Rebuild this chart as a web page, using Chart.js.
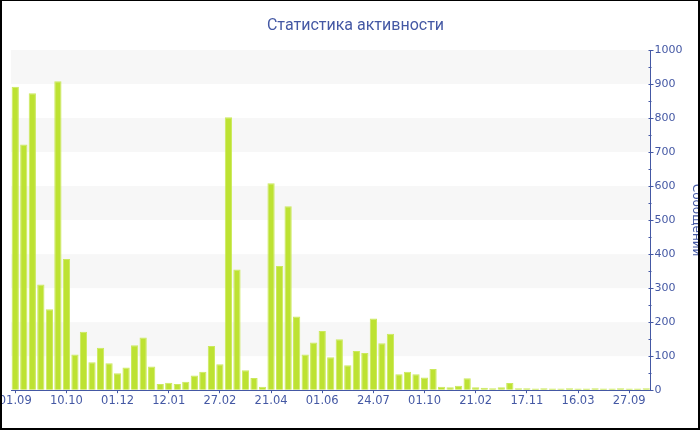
<!DOCTYPE html>
<html>
<head>
<meta charset="utf-8">
<script src="https://cdn.jsdelivr.net/npm/chart.js@4"></script>
<style>
  html, body { margin: 0; padding: 0; background: #fff; overflow: hidden; }
  #wrap { position: relative; width: 700px; height: 430px; }
  #frame { position: absolute; left: 0; top: 0; right: 0; bottom: 0; border: 2px solid #000; border-top-width: 1px; pointer-events: none; }
</style>
</head>
<body>
<div id="wrap">
  <canvas id="activityChart" width="700" height="430"></canvas>
  <div id="frame"></div>
</div>
<script>
// подписи оси X (каждая шестая неделя)
const tickLabels = ["01.09", "10.10", "01.12", "12.01", "27.02", "21.04", "01.06",
                    "24.07", "01.10", "21.02", "17.11", "16.03", "27.09"];
const tickEvery = 6;

// сообщения по периодам
const messages = [
    892, 722, 873, 311, 238, 908, 386, 105, 172, 82,
    125, 79, 50, 67, 132, 155, 70, 18, 22, 18,
    25, 43, 54, 130, 76, 802, 355, 59, 36, 10,
    608, 365, 541, 217, 105, 140, 174, 97, 150, 73,
    115, 109, 211, 138, 166, 47, 54, 47, 37, 62,
    10, 9, 13, 35, 9, 7, 6, 9, 21, 6,
    6, 5, 6, 5, 5, 6, 5, 5, 6, 5,
    5, 6, 5, 5, 6
];

const categories = messages.map((v, i) => i % tickEvery === 0 ? tickLabels[i / tickEvery] : "");

const axisColor = "#4458a4";
const barColor = "#bde232";
const bandColor = "#f7f7f7";

// полосы фона и мелкие засечки на оси Y
const bandsPlugin = {
    id: "bands",
    beforeDraw(chart) {
        const { ctx, chartArea } = chart;
        const y = chart.scales.y;
        ctx.save();
        ctx.fillStyle = bandColor;
        for (let v = 100; v < 1000; v += 200) {
            const top = y.getPixelForValue(v + 100);
            const bottom = y.getPixelForValue(v);
            ctx.fillRect(chartArea.left, top, chartArea.right - chartArea.left, bottom - top);
        }
        ctx.restore();
    },
    afterDraw(chart) {
        const { ctx } = chart;
        const y = chart.scales.y;
        const x0 = Math.round(y.left) + 0.5;
        ctx.save();
        ctx.strokeStyle = axisColor;
        ctx.lineWidth = 1;
        for (let v = 0; v <= 1000; v += 50) {
            const py = Math.round(y.getPixelForValue(v)) + 0.5;
            const major = v % 100 === 0;
            ctx.beginPath();
            ctx.moveTo(x0 - 3, py);
            ctx.lineTo(major ? x0 + 2 : x0, py);
            ctx.stroke();
        }
        ctx.restore();
    }
};

new Chart(document.getElementById("activityChart"), {
    type: "bar",
    data: {
        labels: categories,
        datasets: [{
            label: "Сообщений",
            data: messages,
            backgroundColor: barColor,
            borderColor: "#cbe95c",
            borderWidth: 1,
            barPercentage: 0.85,
            categoryPercentage: 1.0
        }]
    },
    options: {
        responsive: false,
        animation: false,
        devicePixelRatio: 1,
        layout: { padding: { left: 11, right: 0, top: 0, bottom: 21 } },
        plugins: {
            legend: { display: false },
            tooltip: { enabled: false },
            title: {
                display: true,
                text: "Статистика активности",
                color: axisColor,
                font: { family: "Roboto", size: 16, weight: "normal" },
                padding: { top: 16.4, bottom: 14.4 }
            }
        },
        scales: {
            x: {
                ticks: {
                    autoSkip: false,
                    maxRotation: 0,
                    color: axisColor,
                    font: { family: "DejaVu Sans", size: 11.5 },
                    padding: 1
                },
                grid: {
                    offset: false,
                    drawOnChartArea: false,
                    tickLength: 3,
                    color: ctx => categories[ctx.index] ? axisColor : "rgba(0,0,0,0)"
                },
                border: { color: axisColor },
                afterFit(scale) { scale.paddingLeft = 0; scale.paddingRight = 0; }
            },
            y: {
                position: "right",
                min: 0,
                max: 1000,
                ticks: {
                    stepSize: 100,
                    color: axisColor,
                    font: { family: "DejaVu Sans", size: 11 },
                    padding: 4,
                    callback: v => String(v)
                },
                grid: { drawOnChartArea: false, drawTicks: false },
                border: { color: axisColor },
                title: {
                    display: true,
                    text: "Сообщений",
                    color: axisColor,
                    font: { family: "DejaVu Sans", size: 12 },
                    padding: { top: -3, bottom: 0 }
                },
                afterFit(scale) { scale.width = 49.5; }
            }
        }
    },
    plugins: [bandsPlugin]
});
</script>
</body>
</html>
